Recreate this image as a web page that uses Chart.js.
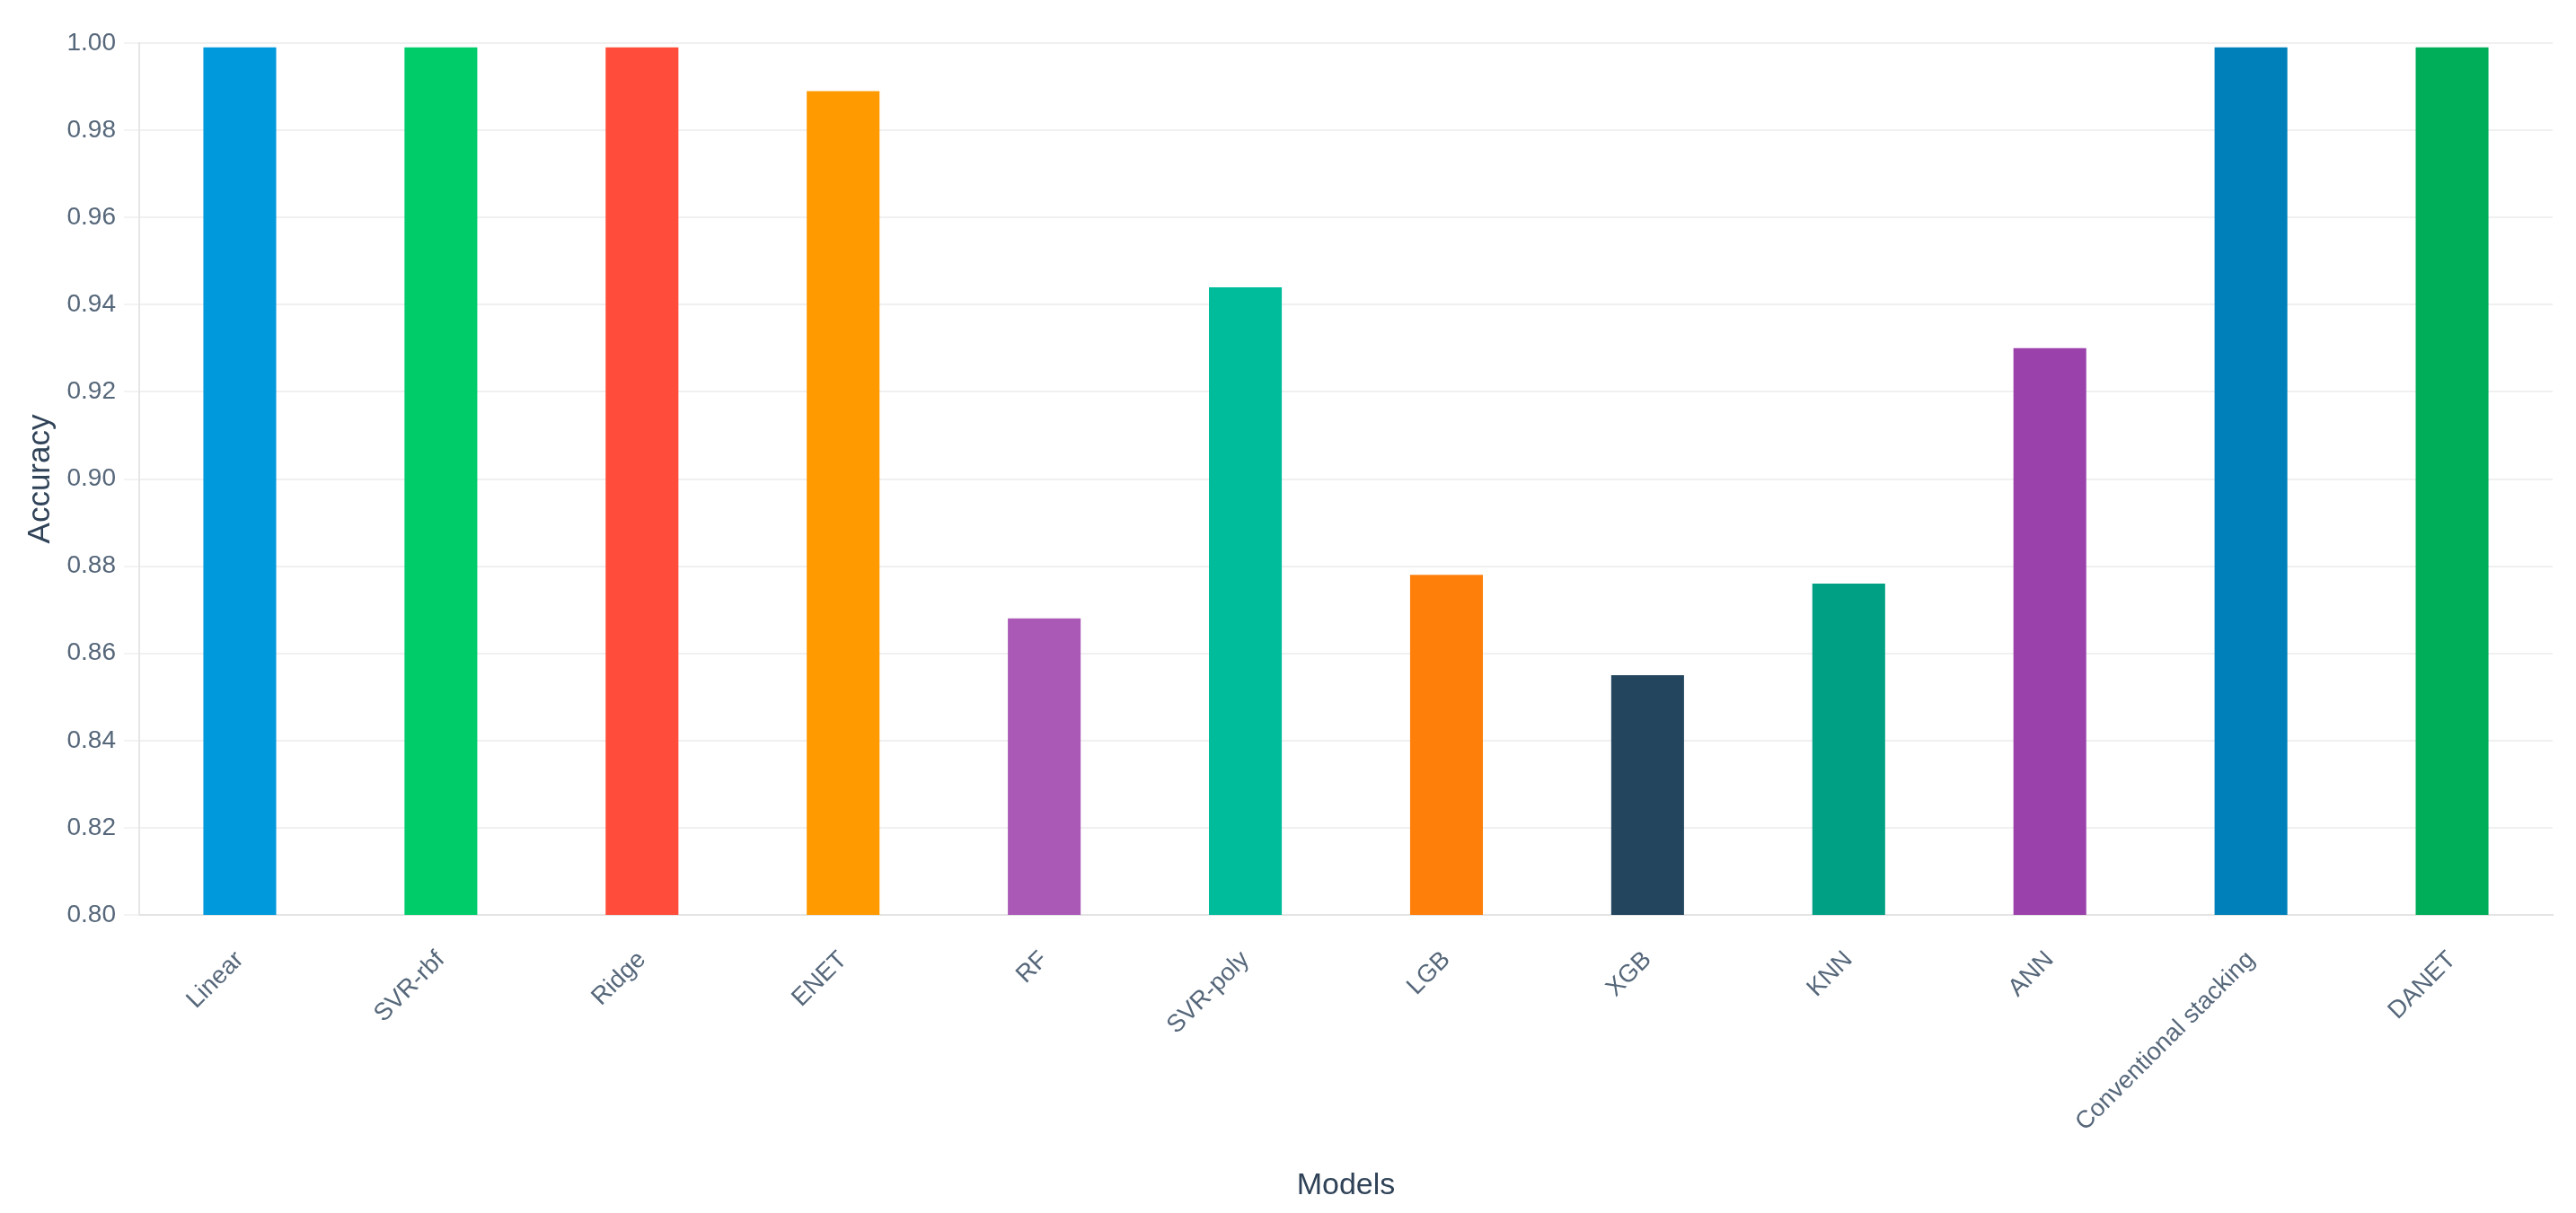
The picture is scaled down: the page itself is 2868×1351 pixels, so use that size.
<!DOCTYPE html>
<html>
<head>
<meta charset="utf-8">
<title>Model accuracy</title>
<script src="https://cdn.jsdelivr.net/npm/chart.js@4/dist/chart.umd.min.js"></script>
<style>
  html, body { margin: 0; padding: 0; background: #fff; }
  #wrap { width: 2868px; height: 1351px; position: relative; }
</style>
</head>
<body>
<div id="wrap"><canvas id="accChart"></canvas></div>
<script>
const models = ["Linear", "SVR-rbf", "Ridge", "ENET", "RF", "SVR-poly", "LGB", "XGB", "KNN", "ANN", "Conventional stacking", "DANET"];
const accuracy = [0.999, 0.999, 0.999, 0.989, 0.868, 0.944, 0.878, 0.855, 0.876, 0.930, 0.999, 0.999];
const barColors = ["#0099dc", "#00cc6a", "#ff4c3b", "#ff9a00", "#aa59b6", "#00bc9b", "#ff7f0b", "#23465e", "#00a085", "#9b41ab", "#0080ba", "#00ad58"];
const yTicks = [0.80, 0.82, 0.84, 0.86, 0.88, 0.90, 0.92, 0.94, 0.96, 0.98, 1.00];

const tickColor = "#56677a";
const titleColor = "#2f4257";
const fontFamily = "'Liberation Sans', Arial, sans-serif";

const ctx = document.getElementById("accChart").getContext("2d");
new Chart(ctx, {
  type: "bar",
  data: {
    labels: models,
    datasets: [{
      label: "Accuracy",
      data: accuracy,
      backgroundColor: barColors,
      borderWidth: 0,
      categoryPercentage: 1.0,
      barPercentage: 0.362
    }]
  },
  options: {
    responsive: true,
    maintainAspectRatio: false,
    animation: false,
    layout: { padding: { top: 48, right: 26, left: 0, bottom: 0 } },
    plugins: {
      legend: { display: false },
      tooltip: { enabled: false }
    },
    scales: {
      x: {
        grid: { display: false },
        border: { display: true, color: "#e4e4e4", width: 2 },
        ticks: {
          autoSkip: false,
          minRotation: 45,
          maxRotation: 45,
          color: tickColor,
          padding: 26,
          font: { family: fontFamily, size: 27.5 }
        },
        title: {
          display: true,
          text: "Models",
          color: titleColor,
          padding: { top: 0, bottom: 10 },
          font: { family: fontFamily, size: 34 }
        },
        afterFit: s => { s.height = 332; }
      },
      y: {
        min: 0.8,
        max: 1.0,
        afterBuildTicks: s => { s.ticks = yTicks.map(v => ({ value: v })); },
        grid: { color: "#f0f0f0", lineWidth: 2, tickLength: 17, tickColor: "#f3f3f3" },
        border: { display: true, color: "#e6e6e6", width: 2 },
        ticks: {
          color: tickColor,
          padding: 9,
          font: { family: fontFamily, size: 28 },
          callback: v => Number(v).toFixed(2)
        },
        title: {
          display: true,
          text: "Accuracy",
          color: titleColor,
          padding: { top: 24, bottom: 0 },
          font: { family: fontFamily, size: 35 }
        },
        afterFit: s => { s.width = 155; }
      }
    }
  }
});
</script>
</body>
</html>
